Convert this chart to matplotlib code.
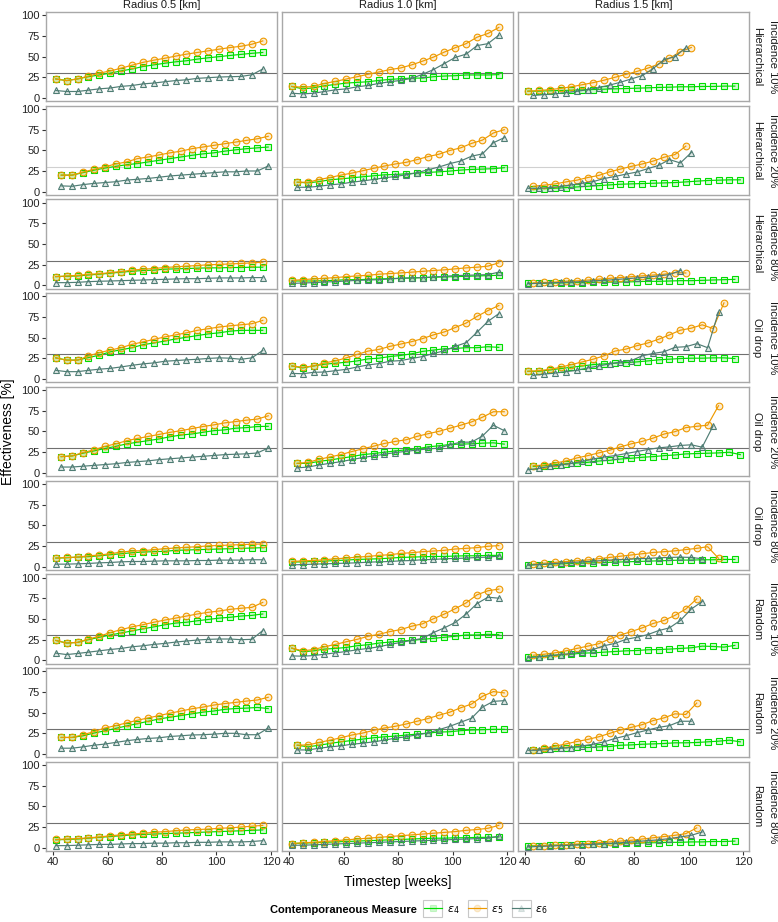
import matplotlib
matplotlib.use("Agg")
import matplotlib.pyplot as plt
from matplotlib.lines import Line2D
from matplotlib.patches import Rectangle
from matplotlib.colors import to_rgba

# timesteps (weeks) -- two sampling grids
weeks_41 = [41, 45, 49, 53, 57, 61, 65, 69, 73, 77, 81, 85, 89, 93, 97, 101, 105, 109, 113, 117]
weeks_43 = [43, 47, 51, 55, 59, 63, 67, 71, 75, 79, 83, 87, 91, 95, 99, 103, 107, 111, 115, 119]

radius_labels = ["Radius 0.5 [km]", "Radius 1.0 [km]", "Radius 1.5 [km]"]
strategies = ["Hierarchical", "Hierarchical", "Hierarchical",
              "Oil drop", "Oil drop", "Oil drop",
              "Random", "Random", "Random"]
incidences = ["Incidence 10%", "Incidence 20%", "Incidence 80%"] * 3

# first timestep of each series (one value per row)
start_r05 = [41, 43, 41, 41, 43, 41, 41, 43, 41]
start_r10 = [41, 43, 41, 41, 43, 41, 41, 43, 41]
start_e4_r15 = [41, 43, 41, 41, 43, 41, 41, 43, 41]
start_e5_r15 = [41, 43, 43, 41, 43, 43, 43, 43, 43]
start_e6_r15 = [43, 41, 41, 43, 41, 41, 41, 41, 41]

# ---- Radius 0.5 ----
e4_r05 = [
    [23, 21, 23, 25.7, 27.8, 30, 32.7, 35, 38, 40, 42, 43.7, 45, 47, 48.6, 50, 51.4, 52.7, 54, 55],
    [20, 20, 23, 26, 28.5, 30.6, 32.6, 34, 36, 38, 40, 42, 44, 45.7, 47, 49, 50.6, 52, 53, 54],
    [10.6, 11, 11.4, 12.6, 13.5, 14.7, 16, 17, 18, 18.4, 19.6, 20, 20.4, 20.8, 21.2, 21.2, 21.6, 21.6, 22, 22],
    [25.7, 23, 23, 26, 29, 33, 35.5, 38, 41.6, 43.7, 46, 48.6, 50.6, 52.7, 54.7, 56, 58, 59, 59, 59],
    [19.6, 20.4, 23.7, 26.5, 29.4, 32, 35, 37, 39, 41, 43.7, 45.7, 47, 49, 51, 52, 54, 54.7, 56, 56.3],
    [10.2, 10.6, 11.4, 12, 13, 14.3, 15.5, 16.7, 17.5, 18, 18.4, 19.6, 20, 20.4, 20.8, 21.2, 21.6, 22, 22.4, 22.8],
    [24, 20.8, 21.6, 24.9, 27.8, 30.6, 33, 35.5, 38, 40.4, 42.9, 45, 46, 47.8, 49.4, 51, 52, 53.5, 54.3, 56],
    [20, 20, 22, 25.3, 28, 31, 33.9, 36.7, 39.6, 42.4, 44.5, 46.5, 48.6, 50.6, 52, 54, 55, 55.5, 56.3, 55],
    [9.5, 10, 10.5, 11.5, 12.5, 13.5, 14.5, 15.5, 16, 16.5, 17, 17.5, 18, 18.5, 19, 19.5, 20, 20.5, 21, 21.5],
]
e5_r05 = [
    [22.9, 21, 23, 26.5, 30, 32.7, 36, 39.6, 43, 45.7, 48, 50.6, 53, 55, 57, 59, 61, 62.5, 65, 69],
    [20, 20, 23.7, 27, 30, 33.5, 36, 40, 42, 44.5, 47, 49, 52, 54, 56, 58, 60, 62, 64, 67],
    [10.6, 11.4, 12, 13.5, 14, 15.5, 16.7, 18.4, 19.6, 20.4, 21.6, 22.4, 23.3, 24, 25, 25.3, 26, 26.5, 27.3, 28],
    [25.7, 22.9, 22.9, 28, 32, 35, 38, 42, 45, 48, 51, 53.5, 56, 59, 61, 63, 64.5, 65.7, 67, 71],
    [19.6, 20.4, 24.5, 27.8, 32, 35, 38.8, 41.6, 44, 46.5, 49, 51, 53.5, 56, 58, 60.4, 62, 63.7, 65, 69],
    [10.2, 11, 11.4, 13, 13.9, 15.5, 17.5, 18.8, 19.2, 20.4, 21.6, 22.4, 23.3, 24, 25, 25.5, 26, 26.5, 27, 27.3],
    [24, 20.8, 21.6, 25.7, 29, 33.5, 37, 40.4, 43, 46, 48.6, 51, 53.5, 56, 58, 59.6, 61.6, 62.9, 64, 70],
    [20, 20, 23.3, 27, 31.4, 34.3, 37.6, 40.8, 43.7, 46.5, 49.4, 52, 54.7, 56.7, 59.2, 61, 62.4, 64, 65.3, 68.6],
    [10, 10.5, 11, 12, 13, 14.5, 15.5, 16.5, 17.5, 18.5, 19.5, 20.5, 21.5, 22, 22.5, 23.5, 24, 25, 26, 27],
]
e6_r05 = [
    [9, 7.8, 7.8, 9.4, 11, 12, 14, 15, 17, 18, 19.6, 21, 22, 23.7, 24.5, 25.3, 25.7, 26, 28, 35],
    [7, 6.5, 8.5, 10, 11, 12, 14, 15, 16, 17.5, 19, 20, 21, 22, 23, 24, 24, 25, 25, 31],
    [3.3, 3.3, 3.7, 4.5, 5, 5.3, 5.7, 6.1, 6.5, 7, 7.3, 7.8, 8.1, 8.1, 8.6, 9, 9, 9, 9.4, 9.4],
    [10.6, 9, 9, 10.6, 12, 13, 14.7, 16.7, 18.4, 19.6, 21.6, 22.4, 23.3, 24, 25, 25.7, 25.3, 24, 25.7, 34.7],
    [7, 7, 8, 9, 10, 11, 12.5, 13.5, 14.5, 16, 17, 18, 19, 20, 21, 22, 22.5, 23, 24, 30],
    [2.9, 2.9, 3.3, 3.7, 4.5, 4.9, 5.7, 6.1, 6.1, 6.5, 6.9, 6.9, 6.9, 7.3, 7.3, 7.8, 7.8, 7.8, 8.2, 8.2],
    [8.6, 6.9, 8.2, 9.8, 11.4, 13, 14.3, 16.3, 17.5, 19.2, 20.4, 22, 23.3, 24.5, 25.3, 25.7, 25.7, 24.9, 25.3, 36],
    [7, 7, 8.6, 10.6, 12, 14, 16, 17.6, 18.8, 19.6, 21.2, 22, 23, 23.3, 24, 25, 25, 23.3, 23.3, 31.4],
    [2.5, 2.5, 3, 3.5, 4, 4, 4.5, 5, 5, 5.5, 5.5, 6, 6, 6.5, 6.5, 7, 7, 7, 7.5, 8.5],
]

# ---- Radius 1.0 ----
e4_r10 = [
    [13.9, 11, 12.2, 14.7, 16.3, 18, 18.8, 19.6, 21.2, 22.4, 23.3, 24, 24, 25.7, 26.5, 26.9, 27.8, 27.8, 27.8, 28.2],
    [11.4, 10.6, 12.2, 14.3, 15.5, 16.7, 18, 19.2, 20.4, 20.8, 21.6, 22.4, 23.3, 24, 24.9, 26.1, 26.9, 27.3, 27.8, 29],
    [5.3, 5.3, 5.3, 5.7, 6.1, 6.9, 6.9, 7.3, 7.8, 8.2, 8.6, 9, 9.4, 9.8, 10.2, 10.6, 11, 11.4, 11.8, 12.2],
    [15.9, 13.5, 15.9, 18, 19.2, 20.4, 22, 24.5, 25.3, 27.3, 28.6, 30.6, 33.5, 35.1, 36.7, 37.1, 38, 38, 39.2, 38.4],
    [11.4, 11.4, 13.9, 15.5, 17.6, 19.6, 22, 23.3, 24.9, 26.5, 27.8, 29, 31.4, 32.7, 34.3, 34.7, 35.1, 35.9, 36.3, 34.7],
    [5.3, 5.7, 6.1, 6.5, 7.3, 7.8, 8.6, 9, 9.4, 10.2, 11, 11.4, 11.8, 12.2, 12.2, 12.7, 13, 13, 13.5, 13.5],
    [14.7, 10.2, 11.4, 13.5, 14.3, 15.5, 17.6, 18.8, 20.8, 22, 23.3, 24.1, 25.3, 26.5, 27.8, 29, 30.6, 30.6, 31.4, 31],
    [10.6, 8.6, 10.6, 12.7, 14.7, 16.3, 18, 19.6, 20.8, 21.6, 22.9, 24.1, 25.3, 26.5, 26.9, 28.2, 29, 29.4, 29.8, 29.8],
    [5, 5.5, 6, 6.5, 7, 7.5, 8, 8.5, 9, 9.5, 10, 10.5, 11, 11.5, 11.5, 12, 12, 12.5, 12.5, 13],
]
e5_r10 = [
    [13.9, 13, 13.9, 17.6, 20, 22.9, 25.7, 28.6, 31.4, 34.3, 36.3, 40, 44.5, 49.4, 55.5, 60.8, 65.7, 73.5, 78, 85.3],
    [11.4, 11.4, 14.7, 17.1, 20, 22.4, 25.3, 28.2, 31, 33.5, 35.5, 38.8, 42.4, 45.3, 49.8, 53, 58.4, 62.4, 71, 75],
    [6, 7, 7.8, 8.6, 9.4, 10.6, 11.4, 12.2, 13.5, 14.3, 15.1, 16, 17, 18, 18.8, 20, 21.2, 22, 23.3, 27.3],
    [15.9, 14.3, 15.9, 19.6, 22, 25.7, 29.8, 33.9, 35.9, 39.6, 42.4, 45.3, 49, 53.5, 57.1, 62.4, 67.8, 75.9, 82.9, 89],
    [11.4, 12.7, 16.3, 19.2, 22, 25.7, 29, 32.2, 35.5, 38, 40, 44.1, 47.3, 50.2, 53.9, 57.6, 61.6, 67.3, 73.9, 73.9],
    [6.1, 6.9, 7.3, 8.2, 9.4, 10.2, 11.4, 12.2, 13.5, 14.3, 15.9, 16.7, 18, 18.8, 19.6, 21.2, 22, 22.9, 24.5, 25.3],
    [14.7, 11.4, 13, 16.3, 19.2, 22.4, 25.3, 29, 31.4, 34.7, 37.1, 41.2, 44.1, 50.2, 55.9, 62.4, 69.4, 79.2, 84.1, 86.1],
    [10.6, 11, 13.9, 16.7, 19.6, 22.9, 25.3, 28.6, 31.4, 33.5, 36.3, 39.6, 42.9, 46.9, 50.6, 55.9, 60.4, 69.8, 75.5, 73.9],
    [5, 6, 6.5, 7.5, 8.5, 9.5, 10.5, 11.5, 12.5, 13.5, 14.5, 15.5, 16.5, 17.5, 18.5, 19.5, 21, 22, 23.5, 27],
]
e6_r10 = [
    [5.7, 4.9, 5.7, 7.8, 9.8, 11, 13.5, 15.1, 17.6, 19.6, 21.2, 23.7, 28.6, 34.3, 41.6, 49, 53, 63.3, 65.7, 75.9],
    [5.3, 5.3, 6.5, 8.2, 9.4, 11.4, 13, 14.7, 16.7, 18.4, 20.4, 22.9, 26.5, 29.8, 33.9, 37.1, 42.9, 45.7, 59.2, 65.3],
    [2.4, 2.9, 3.3, 4.1, 4.5, 5.3, 6.1, 6.5, 6.9, 7.8, 8.6, 9, 9.4, 10.2, 11, 11.8, 12.2, 12.6, 13, 16],
    [6.9, 6.5, 8.2, 8.6, 10.2, 11.8, 14.7, 17.1, 18.8, 21.6, 22.4, 24.9, 27.3, 31, 34.3, 39.6, 44.1, 56.7, 69.8, 79.2],
    [6, 7, 9.5, 11.5, 13.5, 16, 18.5, 20.5, 22.5, 24.5, 26, 27.5, 29, 29.8, 33.9, 37.1, 37.1, 44.5, 57.6, 51],
    [2, 2.4, 2.9, 3.3, 3.7, 4.1, 4.5, 5.3, 5.7, 6.1, 6.9, 7.3, 8.2, 8.6, 9.4, 9.8, 10.2, 11, 11.4, 12.7],
    [5.3, 4.9, 5.7, 7.3, 9, 10.6, 12.7, 14.3, 16.3, 19.2, 21.6, 24.1, 26.5, 33.5, 39.2, 45.7, 55.9, 68.6, 76.3, 75.1],
    [4.9, 4.9, 6.9, 8.6, 9.8, 11.8, 13, 14.7, 16.7, 19.2, 20.8, 23.3, 25.3, 29.4, 33.5, 38.4, 43.3, 56.7, 63.7, 64.5],
    [3, 3, 3.5, 4, 4.5, 5, 5.5, 6, 6.5, 7, 7.5, 8, 8.5, 9, 9.5, 10, 10.5, 11, 11.5, 14],
]

# ---- Radius 1.5 ----
e4_r15 = [
    [8.2, 8.2, 8.6, 9, 9.4, 9.8, 10.2, 10.6, 11, 11.4, 11.8, 12.2, 12.7, 13, 13.5, 13.5, 13.9, 13.9, 14.3, 14.3],
    [3.3, 3.7, 4.1, 4.9, 5.7, 6.5, 7.3, 8.2, 9, 9.4, 9.8, 10.2, 10.6, 11, 11.8, 12.7, 13.5, 13.9, 14.3, 14.3],
    [2.4, 2.4, 2.9, 2.9, 3.3, 3.3, 3.7, 3.7, 4.1, 4.1, 4.5, 4.9, 4.9, 5.3, 5.7, 5.7, 6.1, 6.5, 6.9, 7.3],
    [9.4, 9.4, 11, 12.7, 14.3, 15.9, 17.6, 18.4, 19.2, 20, 20.8, 22, 23.3, 24.1, 24.9, 25.3, 25.3, 25.7, 25.7, 24.9],
    [7.8, 8.6, 9.8, 11, 11.8, 12.7, 14.3, 15.1, 16.7, 17.6, 18.8, 19.6, 20.8, 21.6, 22.9, 23.3, 23.7, 24.1, 24.9, 22],
    [2, 2.4, 2.9, 3.3, 3.7, 4.1, 4.5, 4.9, 5.3, 5.7, 6.1, 6.5, 6.9, 7.3, 7.8, 7.8, 8.2, 8.2, 8.6, 8.6],
    [4.1, 4.5, 5.3, 6.5, 7.3, 8.6, 9, 9.8, 10.6, 11.4, 11.8, 12.7, 13, 13.5, 14.3, 15.1, 17.1, 16.7, 15.9, 18],
    [5.3, 6.1, 6.9, 7.8, 8.6, 7.8, 8.6, 9, 10.6, 11, 11.8, 12.2, 12.7, 13.5, 13.5, 13.9, 14.7, 15.5, 16.7, 14.7],
    [2, 2.5, 3, 3, 3.5, 4, 4.5, 4.5, 5, 5.5, 5.5, 6, 6, 6.5, 6.5, 7, 7, 7.5, 7.5, 8],
]
e5_r15 = [
    [8, 9, 10, 11.5, 13.5, 16, 18.5, 21.5, 25, 28.5, 32, 36, 41, 48, 56, 61],
    [6.5, 7.8, 9.4, 11.8, 13.9, 17.1, 19.6, 24, 27.3, 30.6, 33.5, 37, 41.6, 44.9, 55.1],
    [3, 3.5, 4, 5, 5.5, 6.5, 7.5, 8.5, 9.5, 10.5, 11.5, 12.5, 13.5, 15.5, 15],
    [9.4, 10.2, 11.8, 14.3, 17.6, 20.8, 24.1, 28.2, 33.9, 36.3, 40.4, 43.7, 48.2, 53.5, 59.2, 61.6, 65.7, 61.2, 92.2],
    [8.6, 9.4, 11.8, 14.3, 18, 20.8, 24.1, 27.3, 31.4, 35.1, 38, 42, 46.9, 49.8, 54.7, 56.3, 57.6, 81.2],
    [3, 4, 5, 6, 7, 8, 9.5, 11, 12.5, 14, 15.5, 17, 18, 19, 20.5, 22, 24, 10],
    [6.1, 7.3, 9, 11.4, 14.3, 17.1, 20, 25.7, 30.6, 34.7, 39.2, 44.5, 48.2, 54.3, 62, 74.3],
    [5.3, 6.9, 9.4, 12.2, 15.1, 17.6, 20.8, 24.9, 29, 32.2, 35.5, 40.4, 43.7, 48.6, 47.8, 61.6],
    [2, 2.5, 3, 3.5, 4.5, 5, 6, 7, 8, 9, 10.5, 12, 13.5, 15, 17, 24],
]
e6_r15 = [
    [3, 4, 5, 6.5, 8, 10, 12.5, 15.5, 19, 23, 27, 35.5, 46.5, 49.8, 60.8],
    [4.1, 4.1, 4.9, 6.1, 8.2, 10.2, 12.2, 15.9, 18.4, 21.2, 23.7, 27.8, 31.8, 38.8, 34.7, 47.3],
    [2, 2.5, 3, 3.5, 4, 4.5, 5.5, 6, 7, 8, 9, 10, 11.5, 13, 18],
    [4.5, 6.1, 7.3, 9, 10.6, 13.5, 15.9, 18.4, 20.8, 22.4, 28.2, 31, 33.1, 38.4, 39.2, 42.9, 38, 81.2],
    [3.7, 5.3, 7.8, 9.4, 11.4, 13.9, 16.7, 19.2, 20.8, 23.3, 25.7, 28.2, 30.2, 31.4, 33.1, 33.9, 31, 56.7],
    [1.6, 2.4, 3.3, 4.1, 4.9, 5.7, 6.5, 7.3, 8.2, 8.6, 9.4, 9.8, 10.6, 11, 11.4, 11, 9.4],
    [3.3, 4.1, 5.7, 6.9, 8.2, 10.2, 13, 17.6, 20.4, 25.3, 27.8, 31, 35.9, 39.2, 48.2, 62, 71],
    [4.5, 4.5, 5.7, 6.9, 7.8, 9.8, 11.8, 14.7, 18.8, 22, 25.7, 29, 32.2, 34.3, 39.6, 39.6],
    [1, 1.5, 2, 2.5, 3, 3.5, 4, 5, 5.5, 6.5, 7.5, 8.5, 9.5, 11, 13, 15, 19],
]

col_green = "#00dd00"
col_orange = "#ee9a00"
col_slate = "#4f7d74"
fill_alpha = 0.18

plt.rcParams["font.family"] = ["Liberation Sans", "DejaVu Sans"]
plt.rcParams["mathtext.fontset"] = "dejavusans"


def weeks_from(start, n):
    grid = weeks_41 if start == 41 else weeks_43
    return grid[:n]


def draw(ax, start, vals, color, marker, z):
    x = weeks_from(start, len(vals))
    ax.plot(x, vals, color=color, lw=0.85, marker=marker, ms=4.8, mew=0.8,
            mec=color, mfc=to_rgba(color, fill_alpha), zorder=z)


columns = [
    (e4_r05, e5_r05, e6_r05, start_r05, start_r05, start_r05),
    (e4_r10, e5_r10, e6_r10, start_r10, start_r10, start_r10),
    (e4_r15, e5_r15, e6_r15, start_e4_r15, start_e5_r15, start_e6_r15),
]

fig, axes = plt.subplots(9, 3, figsize=(7.78, 9.22), dpi=100)
fig.subplots_adjust(left=0.0587, right=0.9631, top=0.987, bottom=0.077,
                    wspace=0.0195, hspace=0.05)

for j, (e4, e5, e6, s4, s5, s6) in enumerate(columns):
    for i in range(9):
        ax = axes[i, j]
        # the 30% line is drawn faintly in the second row of the original
        ax.axhline(30, color="#d0d0d0" if i == 1 else "#707070", lw=0.8, zorder=1)
        draw(ax, s4[i], e4[i], col_green, "s", 3)
        draw(ax, s5[i], e5[i], col_orange, "o", 4)
        draw(ax, s6[i], e6[i], col_slate, "^", 5)
        ax.set_xlim(37.3, 122.3)
        ax.set_ylim(-4, 104)
        ax.set_xticks([40, 60, 80, 100, 120])
        ax.set_yticks([0, 25, 50, 75, 100])
        for sp in ax.spines.values():
            sp.set_color("#a8a8a8")
            sp.set_linewidth(1.0)
        ax.tick_params(length=3, width=0.8, color="#333333", labelsize=8,
                       labelcolor="#222222", pad=1.5)
        if j > 0:
            ax.tick_params(left=False, labelleft=False)
        if i < 8:
            ax.tick_params(bottom=False, labelbottom=False)

# strips
for j in range(3):
    pos = axes[0, j].get_position()
    fig.text((pos.x0 + pos.x1) / 2, 1 - 4.5 / 922, radius_labels[j],
             ha="center", va="center", fontsize=8, color="#1a1a1a")
for i in range(9):
    pos = axes[i, 2].get_position()
    yc = (pos.y0 + pos.y1) / 2
    fig.text(757.5 / 778, yc, strategies[i], rotation=-90, ha="center",
             va="center", fontsize=8, color="#1a1a1a")
    fig.text(772.5 / 778, yc, incidences[i], rotation=-90, ha="center",
             va="center", fontsize=8, color="#1a1a1a")

fig.text(8 / 778, 0.532, "Effectiveness [%]", rotation=90, ha="center",
         va="center", fontsize=10)
fig.text(0.511, 1 - 882 / 922, "Timestep [weeks]", ha="center", va="center",
         fontsize=10)

# legend
handles = [
    Line2D([], [], color=col_green, lw=0.85, marker="s", ms=4.8, mew=0.8,
           mfc=to_rgba(col_green, fill_alpha)),
    Line2D([], [], color=col_orange, lw=0.85, marker="o", ms=4.8, mew=0.8,
           mfc=to_rgba(col_orange, fill_alpha)),
    Line2D([], [], color=col_slate, lw=0.85, marker="^", ms=4.8, mew=0.8,
           mfc=to_rgba(col_slate, fill_alpha)),
]
labels = [r"$\varepsilon_4$", r"$\varepsilon_5$", r"$\varepsilon_6$"]
leg = fig.legend(handles, labels, loc="center left",
                 bbox_to_anchor=(424 / 778, 1 - 910 / 922), ncol=3, frameon=False,
                 handlelength=1.6, handletextpad=0.45, columnspacing=0.8,
                 fontsize=8, borderpad=0, borderaxespad=0)
fig.text(417 / 778, 1 - 910 / 922, "Contemporaneous Measure", ha="right",
         va="center", fontsize=8, weight="bold")

# grey boxes round the legend keys, like ggplot's key background
fig.canvas.draw()
renderer = fig.canvas.get_renderer()
W, H = fig.bbox.width, fig.bbox.height
for h in leg.legend_handles:
    bb = h.get_window_extent(renderer)
    cx = (bb.x0 + bb.x1) / 2
    cy = (bb.y0 + bb.y1) / 2
    bw, bh = 19, 17
    fig.add_artist(Rectangle(((cx - bw / 2) / W, (cy - bh / 2) / H), bw / W, bh / H,
                             transform=fig.transFigure, fill=False,
                             ec="#c8c8c8", lw=0.8, zorder=0))

fig.savefig("out.png", dpi=100)
